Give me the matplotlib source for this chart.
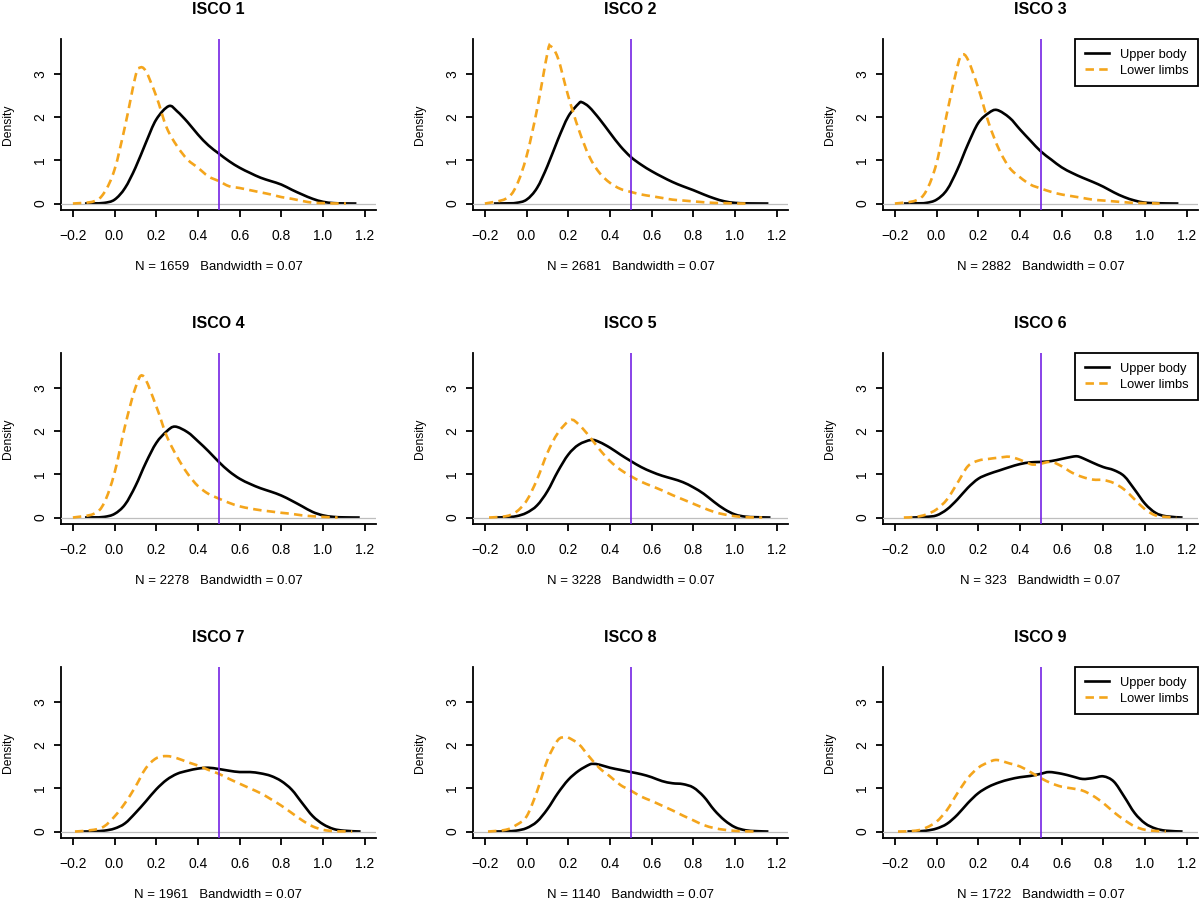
import matplotlib
matplotlib.use("Agg")
import matplotlib.pyplot as plt
from matplotlib.path import Path
from matplotlib.patches import PathPatch
from matplotlib.lines import Line2D

plt.rcParams['font.family'] = ['Liberation Sans', 'DejaVu Sans']

TITLES = ["ISCO 1", "ISCO 2", "ISCO 3", "ISCO 4", "ISCO 5", "ISCO 6", "ISCO 7", "ISCO 8", "ISCO 9"]
N_OBS = [1659, 2681, 2882, 2278, 3228, 323, 1961, 1140, 1722]
BANDWIDTH = 0.07
LEGEND_LABELS = ["Upper body", "Lower limbs"]
X_TICKS = [-0.2, 0.0, 0.2, 0.4, 0.6, 0.8, 1.0, 1.2]
Y_TICKS = [0, 1, 2, 3]
CUTOFF = 0.5

# shared interior grid (-0.10 ... 1.10 step 0.05)
GRID = [-0.10, -0.05, 0.00, 0.05, 0.10, 0.15, 0.20, 0.25, 0.30, 0.35, 0.40, 0.45,
        0.50, 0.55, 0.60, 0.65, 0.70, 0.75, 0.80, 0.85, 0.90, 0.95, 1.00, 1.05, 1.10]

# Upper body (solid black) density values on GRID; start / end x of each curve
UPPER_START = [-0.142, -0.157, -0.157, -0.142, -0.15, -0.117, -0.15, -0.15, -0.14]
UPPER_END = [1.16, 1.16, 1.16, 1.176, 1.17, 1.18, 1.18, 1.16, 1.18]
UPPER_1 = [0.005, 0.015, 0.09, 0.36, 0.83, 1.41, 1.95, 2.24, 2.14, 1.89, 1.60, 1.35,
           1.16, 0.98, 0.83, 0.71, 0.60, 0.52, 0.44, 0.32, 0.21, 0.11, 0.04, 0.01, 0.003]
UPPER_2 = [0.004, 0.015, 0.09, 0.36, 0.87, 1.48, 2.02, 2.32, 2.24, 1.96, 1.64, 1.33,
           1.08, 0.90, 0.75, 0.62, 0.50, 0.40, 0.31, 0.21, 0.12, 0.05, 0.015, 0.005, 0.002]
UPPER_3 = [0.004, 0.015, 0.09, 0.32, 0.79, 1.37, 1.87, 2.10, 2.16, 1.99, 1.72, 1.46,
           1.21, 1.02, 0.84, 0.71, 0.60, 0.50, 0.39, 0.26, 0.15, 0.07, 0.02, 0.01, 0.003]
UPPER_4 = [0.004, 0.015, 0.085, 0.30, 0.73, 1.27, 1.73, 2.00, 2.10, 1.98, 1.77, 1.54,
           1.29, 1.07, 0.90, 0.78, 0.68, 0.60, 0.51, 0.39, 0.26, 0.13, 0.05, 0.015, 0.004]
UPPER_5 = [0.008, 0.03, 0.11, 0.28, 0.61, 1.07, 1.46, 1.69, 1.79, 1.75, 1.62, 1.46,
           1.31, 1.17, 1.06, 0.97, 0.90, 0.82, 0.70, 0.55, 0.36, 0.19, 0.07, 0.02, 0.008]
UPPER_6 = [0.003, 0.015, 0.05, 0.19, 0.42, 0.69, 0.90, 1.01, 1.09, 1.17, 1.24, 1.28,
           1.29, 1.31, 1.36, 1.41, 1.38, 1.27, 1.17, 1.10, 0.96, 0.65, 0.32, 0.11, 0.03]
UPPER_7 = [0.005, 0.02, 0.07, 0.19, 0.43, 0.70, 0.98, 1.20, 1.34, 1.41, 1.46, 1.48,
           1.45, 1.41, 1.38, 1.38, 1.35, 1.29, 1.17, 0.97, 0.66, 0.36, 0.17, 0.06, 0.02]
UPPER_8 = [0.005, 0.02, 0.08, 0.23, 0.52, 0.89, 1.20, 1.41, 1.55, 1.55, 1.48, 1.43,
           1.38, 1.33, 1.26, 1.17, 1.12, 1.10, 1.02, 0.81, 0.50, 0.26, 0.10, 0.03, 0.01]
UPPER_9 = [0.005, 0.02, 0.07, 0.18, 0.39, 0.66, 0.89, 1.04, 1.14, 1.21, 1.26, 1.29,
           1.34, 1.38, 1.34, 1.28, 1.22, 1.24, 1.28, 1.16, 0.81, 0.43, 0.19, 0.07, 0.02]

# Lower limbs (dashed orange) density values on GRID; start / end x of each curve
LOWER_START = [-0.20, -0.20, -0.20, -0.20, -0.18, -0.157, -0.19, -0.185, -0.185]
LOWER_END = [1.11, 1.05, 1.07, 1.07, 1.13, 1.15, 1.14, 1.105, 1.10]
LOWER_1 = [0.05, 0.25, 0.79, 1.79, 2.95, 3.07, 2.49, 1.76, 1.33, 1.02, 0.83, 0.63,
           0.52, 0.40, 0.36, 0.31, 0.26, 0.21, 0.15, 0.11, 0.06, 0.02, 0.01, 0.003, 0.001]
LOWER_2 = [0.11, 0.40, 1.10, 2.18, 3.49, 3.38, 2.49, 1.72, 1.10, 0.71, 0.48, 0.34,
           0.27, 0.21, 0.17, 0.13, 0.09, 0.07, 0.05, 0.03, 0.015, 0.01, 0.003, 0.0, 0.0]
LOWER_3 = [0.07, 0.29, 0.94, 2.10, 3.18, 3.34, 2.68, 1.87, 1.25, 0.83, 0.61, 0.44,
           0.35, 0.27, 0.21, 0.17, 0.13, 0.09, 0.07, 0.05, 0.03, 0.015, 0.01, 0.003, 0.0]
LOWER_4 = [0.085, 0.34, 1.04, 2.12, 3.01, 3.24, 2.58, 1.89, 1.41, 1.02, 0.73, 0.55,
           0.44, 0.34, 0.26, 0.21, 0.17, 0.14, 0.11, 0.085, 0.05, 0.03, 0.015, 0.004, 0.0]
LOWER_5 = [0.03, 0.13, 0.39, 0.88, 1.50, 1.96, 2.23, 2.16, 1.89, 1.58, 1.31, 1.11,
           0.96, 0.83, 0.73, 0.63, 0.52, 0.42, 0.32, 0.22, 0.13, 0.07, 0.03, 0.008, 0.002]
LOWER_6 = [0.015, 0.07, 0.19, 0.42, 0.80, 1.19, 1.32, 1.36, 1.39, 1.41, 1.34, 1.24,
           1.25, 1.29, 1.19, 1.04, 0.94, 0.88, 0.87, 0.80, 0.65, 0.42, 0.19, 0.05, 0.015]
LOWER_7 = [0.04, 0.12, 0.35, 0.66, 1.04, 1.47, 1.70, 1.75, 1.70, 1.61, 1.53, 1.43,
           1.34, 1.22, 1.11, 1.00, 0.89, 0.75, 0.60, 0.43, 0.26, 0.12, 0.04, 0.01, 0.003]
LOWER_8 = [0.04, 0.15, 0.35, 0.93, 1.66, 2.12, 2.18, 2.03, 1.74, 1.47, 1.28, 1.08,
           0.95, 0.81, 0.71, 0.60, 0.49, 0.37, 0.26, 0.15, 0.08, 0.04, 0.015, 0.005, 0.001]
LOWER_9 = [0.02, 0.09, 0.23, 0.50, 0.89, 1.24, 1.48, 1.61, 1.65, 1.58, 1.51, 1.38,
           1.24, 1.12, 1.04, 1.00, 0.95, 0.83, 0.66, 0.45, 0.27, 0.12, 0.04, 0.015, 0.002]

# peak points (x, y) inserted into curves
UPPER_PEAK = [(0.26, 2.26), (0.265, 2.35), (0.29, 2.17), (0.29, 2.11), (0.31, 1.80),
              (0.675, 1.42), (0.45, 1.48), (0.32, 1.57), (0.54, 1.38)]
LOWER_PEAK = [(0.12, 3.15), (0.115, 3.65), (0.122, 3.45), (0.138, 3.28), (0.21, 2.26),
              (0.475, 1.23), (0.25, 1.75), (0.185, 2.19), (0.29, 1.66)]

UPPER = [UPPER_1, UPPER_2, UPPER_3, UPPER_4, UPPER_5, UPPER_6, UPPER_7, UPPER_8, UPPER_9]
LOWER = [LOWER_1, LOWER_2, LOWER_3, LOWER_4, LOWER_5, LOWER_6, LOWER_7, LOWER_8, LOWER_9]

BLACK = "#000000"
ORANGE = "#F4A51C"
PURPLE = "#7422E4"
GRAY = "#BEBEBE"


def build_curve(vals, start, end, peak):
    pts = [(start, 0.0)]
    for gx, gy in zip(GRID, vals):
        if start < gx < end:
            pts.append((gx, gy))
    pts.append((end, 0.0))
    pts = [p for p in pts if abs(p[0] - peak[0]) > 0.012] + [peak]
    pts.sort(key=lambda p: p[0])
    return pts


def smooth_path(pts):
    """Catmull-Rom style smooth Bezier path through the read points."""
    verts = [pts[0]]
    codes = [Path.MOVETO]
    n = len(pts)
    for i in range(n - 1):
        p0 = pts[i - 1] if i > 0 else pts[i]
        p1 = pts[i]
        p2 = pts[i + 1]
        p3 = pts[i + 2] if i + 2 < n else pts[i + 1]
        c1 = (p1[0] + (p2[0] - p0[0]) / 6.0, max(0.0, p1[1] + (p2[1] - p0[1]) / 6.0))
        c2 = (p2[0] - (p3[0] - p1[0]) / 6.0, max(0.0, p2[1] - (p3[1] - p1[1]) / 6.0))
        verts += [c1, c2, p2]
        codes += [Path.CURVE4, Path.CURVE4, Path.CURVE4]
    return Path(verts, codes)


fig = plt.figure(figsize=(12, 9), dpi=100)
W, H = 1200.0, 900.0
col_left = [61, 473, 883]
row_top = [39, 353, 667]
aw, ah = 315, 171

for i in range(9):
    r, c = divmod(i, 3)
    left = col_left[c] / W
    bottom = 1 - (row_top[r] + ah) / H
    ax = fig.add_axes([left, bottom, aw / W, ah / H])
    upts = build_curve(UPPER[i], UPPER_START[i], UPPER_END[i], UPPER_PEAK[i])
    lpts = build_curve(LOWER[i], LOWER_START[i], LOWER_END[i], LOWER_PEAK[i])

    ax.add_patch(PathPatch(smooth_path(upts), facecolor='none', edgecolor=BLACK,
                           lw=1.9, joinstyle='round', capstyle='butt', zorder=3))
    ax.axhline(0, color=GRAY, lw=0.9, zorder=3.5)
    ax.add_patch(PathPatch(smooth_path(lpts), facecolor='none', edgecolor=ORANGE,
                           lw=1.9, linestyle=(0, (3.2, 2.0)), capstyle='butt', zorder=4))
    ax.axvline(CUTOFF, color=PURPLE, lw=1.2, zorder=5)

    ax.set_xlim(-0.257, 1.254)
    ax.set_ylim(-0.15, 3.817)
    ax.set_xticks(X_TICKS)
    ax.set_xticklabels([f"{t:.1f}".replace("-", "\u2212") for t in X_TICKS])
    ax.set_yticks(Y_TICKS)
    ax.set_yticklabels([str(t) for t in Y_TICKS], rotation=90, va='center')
    for s in ['top', 'right']:
        ax.spines[s].set_visible(False)
    for s in ['left', 'bottom']:
        ax.spines[s].set_linewidth(1.3)
    ax.tick_params(axis='both', length=5, width=1.3, labelsize=10, direction='out')
    ax.tick_params(axis='x', pad=9)
    ax.tick_params(axis='y', pad=5)

    ax.text(0.5, 1 + 29.6 / ah, TITLES[i], transform=ax.transAxes, ha='center',
            va='center', fontsize=11.5, fontweight='bold')
    ax.text(-53 / aw, 0.5, "Density", transform=ax.transAxes, rotation=90,
            ha='center', va='center', fontsize=8.7)
    ax.text(0.5, -57.5 / ah, f"N = {N_OBS[i]}   Bandwidth = {BANDWIDTH:.2f}",
            transform=ax.transAxes, ha='center', va='center', fontsize=9.5)

    if c == 2:
        h1 = Line2D([], [], color=BLACK, lw=1.9)
        h2 = Line2D([], [], color=ORANGE, lw=1.9, dashes=(3.2, 2.0))
        leg = ax.legend(handles=[h1, h2], labels=LEGEND_LABELS, loc='upper right',
                        bbox_to_anchor=(1.0, 1.0),
                        borderaxespad=0, fancybox=False, edgecolor='black',
                        fontsize=9.3, handlelength=1.9, handletextpad=0.8,
                        borderpad=0.75, labelspacing=0.3, framealpha=1)
        leg.get_frame().set_linewidth(1.3)
        leg.set_zorder(10)

fig.savefig("out.png", dpi=100)
